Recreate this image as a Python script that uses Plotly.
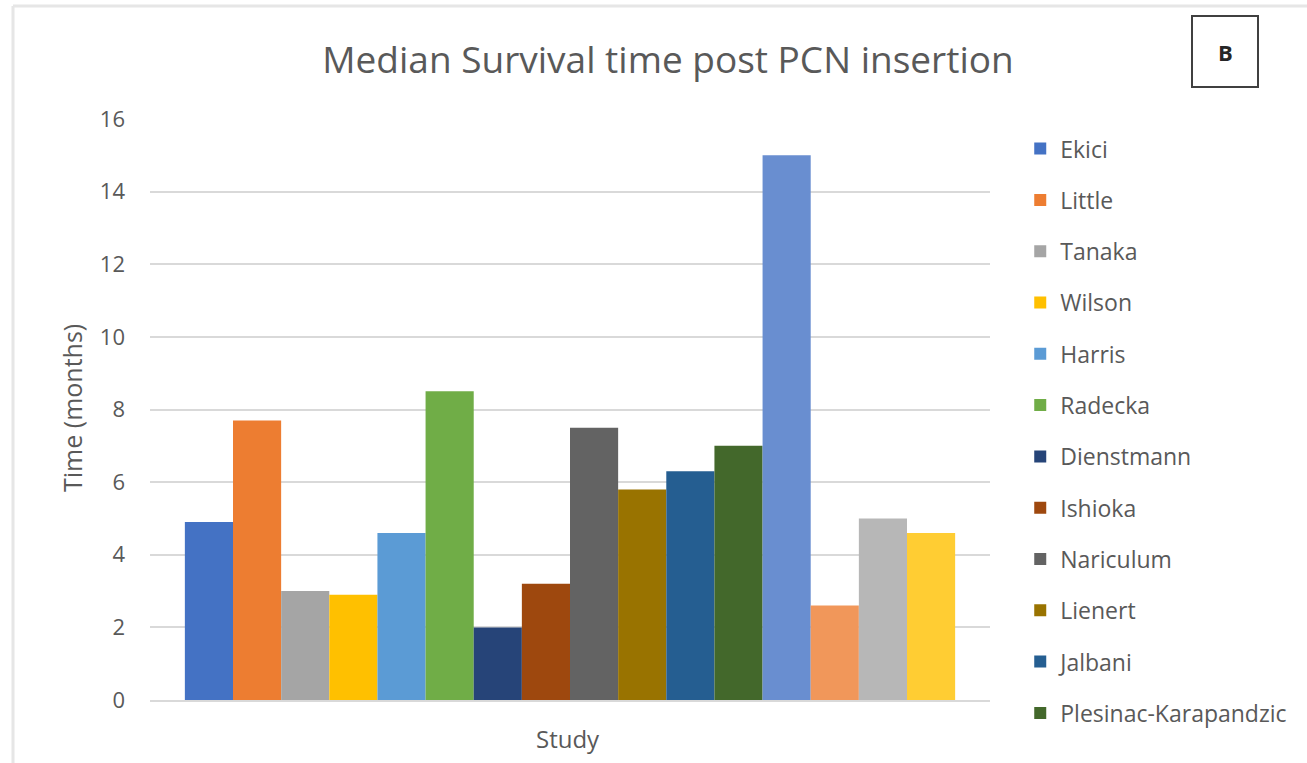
import plotly.graph_objects as go

# Studies shown in the legend, in bar order
studies = [
    "Ekici", "Little", "Tanaka", "Wilson", "Harris", "Radecka",
    "Dienstmann", "Ishioka", "Nariculum", "Lienert", "Jalbani",
    "Plesinac-Karapandzic",
]
# Four further studies whose bars are drawn but whose legend entries are cut off
extra_studies = ["Study 13", "Study 14", "Study 15", "Study 16"]

# Median survival (months) per study
median_months = [4.9, 7.7, 3.0, 2.9, 4.6, 8.5, 2.0, 3.2, 7.5, 5.8, 6.3, 7.0]
extra_median_months = [15.0, 2.6, 5.0, 4.6]

colors = [
    "#4472C4", "#ED7D31", "#A5A5A5", "#FFC000", "#5B9BD5", "#70AD47",
    "#264478", "#9E480E", "#636363", "#997300", "#255E91", "#43682B",
]
extra_colors = ["#698ED0", "#F1975A", "#B7B7B7", "#FFCD33"]

category = ["Study"]
y_ticks = [0, 2, 4, 6, 8, 10, 12, 14, 16]

FONT = "'Open Sans', Lato, sans-serif"
TEXT = "#595959"

fig = go.Figure()
for name, val, col in zip(studies, median_months, colors):
    fig.add_trace(go.Bar(x=category, y=[val], name=name, marker_color=col,
                         marker_line_width=0, legendgroup=name))
for name, val, col in zip(extra_studies, extra_median_months, extra_colors):
    fig.add_trace(go.Bar(x=category, y=[val], name=name, marker_color=col,
                         marker_line_width=0, showlegend=False))

fig.update_layout(
    width=1307, height=763,
    margin=dict(l=150, r=317, t=119, b=63, autoexpand=False),
    paper_bgcolor="white", plot_bgcolor="white",
    barmode="group", bargap=0.083, bargroupgap=0,
    font=dict(family=FONT, color=TEXT, size=21),
    showlegend=True,
    legend=dict(
        x=1.036, y=0.986, xanchor="left", yanchor="top",
        traceorder="grouped", tracegroupgap=18.4, maxheight=760,
        font=dict(size=23, color=TEXT, family=FONT),
        bgcolor="rgba(0,0,0,0)",
    ),
    xaxis=dict(
        type="category", showticklabels=False, showgrid=False,
        showline=True, linecolor="#d9d9d9", linewidth=1.5,
        range=[-0.5, 0.5], fixedrange=True,
    ),
    yaxis=dict(
        range=[0, 16], tickvals=y_ticks, showgrid=True,
        gridcolor="#d9d9d9", gridwidth=1.5, zeroline=False,
        showline=False, ticks="", ticklabelstandoff=24,
        tickfont=dict(size=22, color=TEXT),
    ),
    title=dict(
        text="Median Survival time post PCN insertion",
        x=668 / 1307, xanchor="center", y=1 - 60 / 763, yanchor="middle",
        font=dict(size=37, color=TEXT, family=FONT),
    ),
)

# Axis titles
fig.add_annotation(text="Time (months)", xref="paper", yref="paper",
                   x=(72 - 150) / 840, y=(700 - 408) / 581, textangle=-90,
                   showarrow=False, xanchor="center", yanchor="middle",
                   font=dict(size=25, color=TEXT, family=FONT))
fig.add_annotation(text="Study", xref="paper", yref="paper",
                   x=(568 - 150) / 840, y=(700 - 738) / 581,
                   showarrow=False, xanchor="center", yanchor="middle",
                   font=dict(size=24, color=TEXT, family=FONT))

# Panel letter in a framed box
fig.add_shape(type="rect", xref="paper", yref="paper",
              x0=(1192 - 150) / 840, x1=(1258 - 150) / 840,
              y0=(700 - 87) / 581, y1=(700 - 16) / 581,
              line=dict(color="#404040", width=2), fillcolor="white")
fig.add_annotation(text="<b>B</b>", xref="paper", yref="paper",
                   x=(1225 - 150) / 840, y=(700 - 52) / 581,
                   showarrow=False, xanchor="center", yanchor="middle",
                   font=dict(size=22, color="#262626", family=FONT))

# Chart-area border (left and top edges visible)
fig.add_shape(type="line", xref="paper", yref="paper",
              x0=(13 - 150) / 840, x1=(13 - 150) / 840,
              y0=(700 - 770) / 581, y1=(700 - 6) / 581,
              line=dict(color="#e6e6e6", width=3))
fig.add_shape(type="line", xref="paper", yref="paper",
              x0=(13 - 150) / 840, x1=(1320 - 150) / 840,
              y0=(700 - 6) / 581, y1=(700 - 6) / 581,
              line=dict(color="#e6e6e6", width=3))

fig.write_html("out.html")
